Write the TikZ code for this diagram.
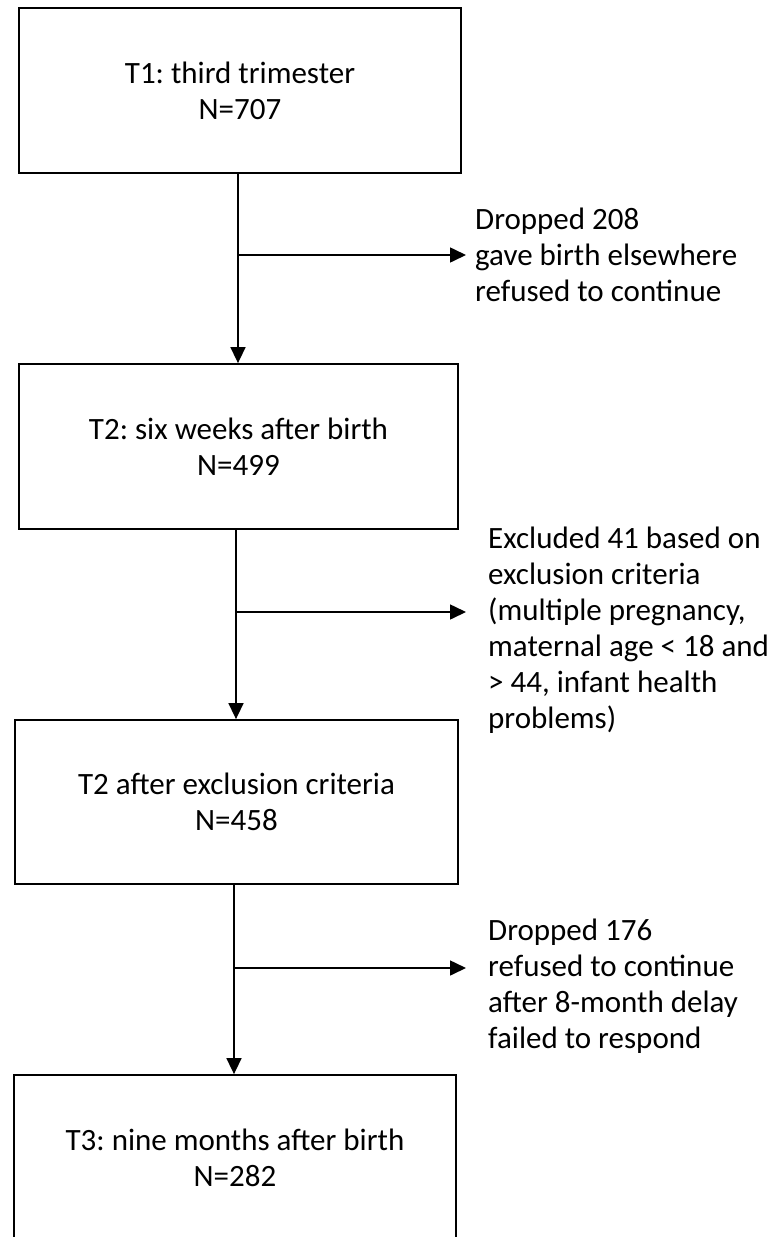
\documentclass[tikz,border=0pt]{standalone}
\usepackage{fontspec}
\setmainfont{Carlito}
\usetikzlibrary{arrows.meta}
\frenchspacing
\begin{document}
\begin{tikzpicture}[x=1pt,y=-1pt,
  stagebox/.style={draw,line width=1.8pt,rectangle,inner sep=0pt,align=center,
    font=\fontsize{31}{36}\selectfont},
  sidetext/.style={inner sep=0pt,align=left,anchor=west,
    font=\fontsize{31}{36}\selectfont},
  flow/.style={line width=1.6pt,-{Triangle[width=15pt,length=16pt]}}]
\useasboundingbox (0,0) rectangle (778,1237);
\clip (0,0) rectangle (778,1237);
\node[stagebox,minimum width=442pt,minimum height=165pt] (b1) at (240,90.5) {T1: third trimester\\N=707};
\node[stagebox,minimum width=439pt,minimum height=165pt] (b2) at (238.5,446.5) {T2: six weeks after birth\\N=499};
\node[stagebox,minimum width=443pt,minimum height=164pt] (b3) at (236.5,802) {T2 after exclusion criteria\\N=458};
\node[stagebox,minimum width=442pt,minimum height=165pt] (b4) at (235,1157.5) {T3: nine months after birth\\N=282};
\node[sidetext] (t1) at (475,255) {Dropped 208\\gave birth elsewhere\\refused to continue};
\node[sidetext] (t2) at (488,630) {Excluded 41 based on\\exclusion criteria\\(multiple pregnancy,\\maternal age < 18 and\\> 44, infant health\\problems)};
\node[sidetext] (t3) at (488,986) {Dropped 176\\refused to continue\\after 8-month delay\\failed to respond};
\coordinate (j1) at (238,255);
\coordinate (j2) at (236,612);
\coordinate (j3) at (234,968);
\coordinate (e1) at (466,255);
\coordinate (e2) at (466,612);
\coordinate (e3) at (466,968);
\draw[flow] (b1.south -| j1) -- (b2.north -| j1);
\draw[flow] (b2.south -| j2) -- (b3.north -| j2);
\draw[flow] (b3.south -| j3) -- (b4.north -| j3);
\draw[flow] (j1) -- (e1);
\draw[flow] (j2) -- (e2);
\draw[flow] (j3) -- (e3);
\end{tikzpicture}
\end{document}
